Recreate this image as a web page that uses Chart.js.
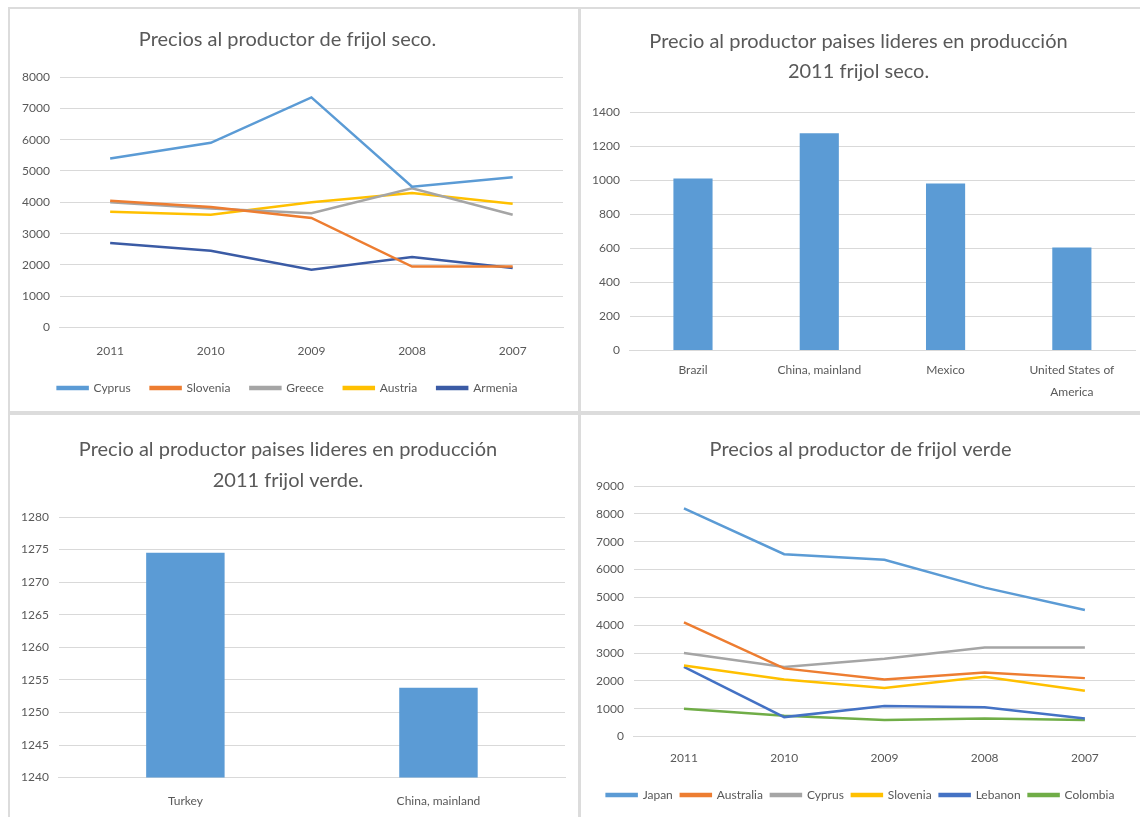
<!DOCTYPE html>
<html>
<head>
<meta charset="utf-8">
<script src="https://cdn.jsdelivr.net/npm/chart.js@4/dist/chart.umd.min.js"></script>
<style>
  body { margin: 0; background: #fff; width: 1140px; height: 817px; position: relative; overflow: hidden; }
  .panel { position: absolute; box-sizing: border-box; }
  .line { position: absolute; background: #dcdcdc; }
</style>
</head>
<body>
<div class="line" style="left:8px;top:7px;width:1132px;height:2px"></div>
<div class="line" style="left:8px;top:7px;width:2px;height:810px"></div>
<div class="line" style="left:578px;top:7px;width:3px;height:810px"></div>
<div class="line" style="left:8px;top:411px;width:1132px;height:4px"></div>

<div class="panel" style="left:10px;top:10px;width:568px;height:400px"><canvas id="secoLine"></canvas></div>
<div class="panel" style="left:582px;top:10px;width:558px;height:400px"><canvas id="secoBar"></canvas></div>
<div class="panel" style="left:10px;top:416px;width:568px;height:401px"><canvas id="verdeBar"></canvas></div>
<div class="panel" style="left:582px;top:416px;width:558px;height:401px"><canvas id="verdeLine"></canvas></div>

<script>
// ---- data ----
const years = ['2011', '2010', '2009', '2008', '2007'];

// frijol seco, precios al productor
const secoCyprus   = [5400, 5900, 7350, 4500, 4800];
const secoSlovenia = [4050, 3850, 3500, 1950, 1950];
const secoGreece   = [4000, 3800, 3650, 4450, 3600];
const secoAustria  = [3700, 3600, 4000, 4300, 3950];
const secoArmenia  = [2700, 2450, 1850, 2250, 1900];

// paises lideres 2011 frijol seco
const secoCountries = ['Brazil', 'China, mainland', 'Mexico', ['United States of', 'America']];
const secoPrices = [1010, 1275, 980, 605];

// paises lideres 2011 frijol verde
const verdeCountries = ['Turkey', 'China, mainland'];
const verdePrices = [1274.5, 1253.8];

// frijol verde, precios al productor
const verdeJapan     = [8200, 6550, 6350, 5350, 4550];
const verdeAustralia = [4100, 2450, 2050, 2300, 2100];
const verdeCyprus    = [3000, 2500, 2800, 3200, 3200];
const verdeSlovenia  = [2550, 2050, 1750, 2150, 1650];
const verdeLebanon   = [2500, 700, 1100, 1050, 650];
const verdeColombia  = [1000, 750, 600, 650, 600];

// ---- style helpers ----
Chart.defaults.font.family = 'Lato, "Open Sans", sans-serif';
Chart.defaults.color = '#595959';
Chart.defaults.animation = false;

const gridColor = '#d9d9d9';

function lineSet(label, data, color){
  return {
    label: label, data: data,
    borderColor: color, backgroundColor: color,
    borderWidth: 2.5, pointRadius: 0, tension: 0
  };
}

function titleOpts(text, top, bottom, lh){
  return {
    display: true, text: text, color: '#595959',
    font: { size: 20, weight: 'normal', lineHeight: lh || 1.5 },
    padding: { top: top, bottom: bottom }
  };
}

// extra = pixels added to (or taken from) the x axis box height
function scalesOpts(min, max, step, xTicks, extra){
  return {
    x: {
      offset: true,
      grid: { display: false },
      border: { color: gridColor },
      ticks: Object.assign({ font: { size: 12 }, color: '#595959', padding: 8, maxRotation: 0, autoSkip: false }, xTicks || {}),
      afterFit: (scale) => { scale.height += (extra || 0); }
    },
    y: {
      min: min, max: max,
      grid: { color: gridColor, drawTicks: false },
      border: { display: false },
      ticks: { stepSize: step, font: { size: 12 }, color: '#595959', padding: 10,
        callback: (v) => String(v) }
    }
  };
}

function legendOpts(pad){
  return {
    display: true, position: 'bottom',
    labels: { boxWidth: 30, boxHeight: 2, font: { size: 12 }, color: '#595959', padding: pad }
  };
}

// top-left: line chart frijol seco
new Chart(document.getElementById('secoLine'), {
  type: 'line',
  data: {
    labels: years,
    datasets: [
      lineSet('Cyprus', secoCyprus, '#5b9bd5'),
      lineSet('Slovenia', secoSlovenia, '#ed7d31'),
      lineSet('Greece', secoGreece, '#a5a5a5'),
      lineSet('Austria', secoAustria, '#ffc000'),
      lineSet('Armenia', secoArmenia, '#3b5ba5')
    ]
  },
  options: {
    responsive: true, maintainAspectRatio: false,
    layout: { padding: { left: 2, right: 15, bottom: 6 } },
    plugins: {
      title: titleOpts('Precios al productor de frijol seco.', 15, 22),
      legend: legendOpts(20)
    },
    scales: scalesOpts(0, 8000, 1000, null, -4)
  }
});

// top-right: bar chart frijol seco 2011
const secoBarScales = scalesOpts(0, 1400, 200, { padding: 8, font: { size: 12, lineHeight: 1.9 } }, -7);
secoBarScales.x.grid.drawTicks = false;

new Chart(document.getElementById('secoBar'), {
  type: 'bar',
  data: {
    labels: secoCountries,
    datasets: [{ label: 'Precio', data: secoPrices, backgroundColor: '#5b9bd5',
      categoryPercentage: 1, barPercentage: 0.31 }]
  },
  options: {
    responsive: true, maintainAspectRatio: false,
    layout: { padding: { left: 0, right: 5, bottom: 5 } },
    plugins: {
      title: titleOpts(['Precio al productor paises lideres en producción', '2011 frijol seco.'], 17, 25),
      legend: { display: false }
    },
    scales: secoBarScales
  }
});

// bottom-left: bar chart frijol verde 2011
new Chart(document.getElementById('verdeBar'), {
  type: 'bar',
  data: {
    labels: verdeCountries,
    datasets: [{ label: 'Precio', data: verdePrices, backgroundColor: '#5b9bd5',
      categoryPercentage: 1, barPercentage: 0.31 }]
  },
  options: {
    responsive: true, maintainAspectRatio: false,
    layout: { padding: { left: 1, right: 13, bottom: 9 } },
    plugins: {
      title: titleOpts(['Precio al productor paises lideres en producción', '2011 frijol verde.'], 18, 21, 1.55),
      legend: { display: false }
    },
    scales: scalesOpts(1240, 1280, 5, null, -8)
  }
});

// bottom-right: line chart frijol verde
new Chart(document.getElementById('verdeLine'), {
  type: 'line',
  data: {
    labels: years,
    datasets: [
      lineSet('Japan', verdeJapan, '#5b9bd5'),
      lineSet('Australia', verdeAustralia, '#ed7d31'),
      lineSet('Cyprus', verdeCyprus, '#a5a5a5'),
      lineSet('Slovenia', verdeSlovenia, '#ffc000'),
      lineSet('Lebanon', verdeLebanon, '#4472c4'),
      lineSet('Colombia', verdeColombia, '#70ad47')
    ]
  },
  options: {
    responsive: true, maintainAspectRatio: false,
    layout: { padding: { left: 4, right: 5, bottom: 6 } },
    plugins: {
      title: titleOpts('Precios al productor de frijol verde', 19, 21),
      legend: legendOpts(8)
    },
    scales: scalesOpts(0, 9000, 1000, { padding: 6 }, 10)
  }
});
</script>
</body>
</html>
